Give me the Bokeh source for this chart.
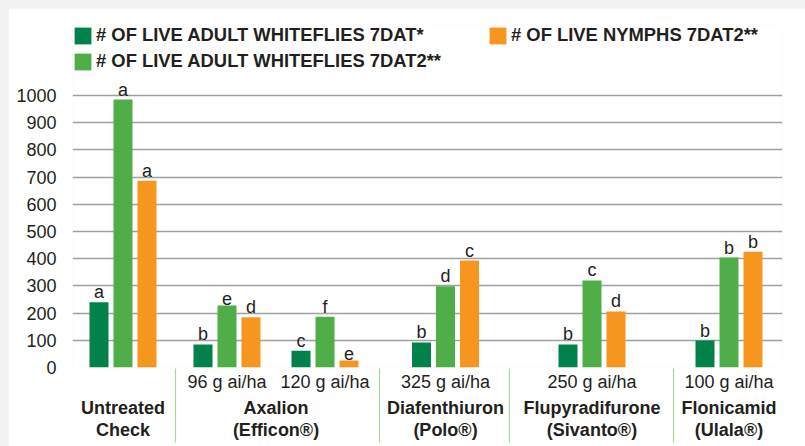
from bokeh.plotting import figure
from bokeh.models import (ColumnDataSource, Range1d, LinearAxis, FixedTicker,
                          Legend, LegendItem)
from bokeh.transform import dodge
from bokeh.embed import file_html
from bokeh.resources import INLINE
from bokeh.core.properties import value

# ---------------- data ----------------
treatments = ["Untreated Check", "Axalion 96 g ai/ha", "Axalion 120 g ai/ha",
              "Diafenthiuron 325 g ai/ha", "Flupyradifurone 250 g ai/ha",
              "Flonicamid 100 g ai/ha"]
adult_7dat = [240, 85, 62, 92, 85, 99]
adult_7dat2 = [985, 228, 187, 299, 320, 404]
nymphs_7dat2 = [687, 185, 26, 393, 206, 426]
letters_adult_7dat = ["a", "b", "c", "b", "b", "b"]
letters_adult_7dat2 = ["a", "e", "f", "d", "c", "b"]
letters_nymphs_7dat2 = ["a", "d", "e", "c", "d", "b"]
series_names = ["# OF LIVE ADULT WHITEFLIES 7DAT*",
                "# OF LIVE ADULT WHITEFLIES 7DAT2**",
                "# OF LIVE NYMPHS 7DAT2**"]
dose_labels = ["96 g ai/ha", "120 g ai/ha", "325 g ai/ha", "250 g ai/ha", "100 g ai/ha"]
product_labels = ["Untreated\nCheck", "Axalion\n(Efficon®)", "Diafenthiuron\n(Polo®)",
                  "Flupyradifurone\n(Sivanto®)", "Flonicamid\n(Ulala®)"]
y_ticks = [0, 100, 200, 300, 400, 500, 600, 700, 800, 900, 1000]

# ---------------- layout (positions along the category axis) ----------------
group_x = [50.5, 154.5, 252.5, 373, 519.5, 656.5]
dose_x = [154.5, 252.5, 373, 519.5, 656.5]
product_x = [50.5, 203.5, 373, 519.5, 656.5]
separator_x = [103, 307, 437, 601]

DARK = "#00824a"
LIGHT = "#4fae47"
ORANGE = "#f7961e"
TXT = "#231f20"
FONT = "Liberation Sans"

p = figure(width=797, height=438, x_range=Range1d(0, 710), y_range=Range1d(0, 1261),
           output_backend="svg", toolbar_location=None, x_axis_type=None,
           min_border_left=64, min_border_right=23, min_border_top=16,
           min_border_bottom=79)
p.outline_line_color = None
p.background_fill_color = "white"
p.border_fill_color = "white"

# y axis
yax = p.yaxis[0]
yax.ticker = FixedTicker(ticks=y_ticks)
yax.axis_line_color = None
yax.major_tick_line_color = None
yax.minor_tick_line_color = None
yax.major_label_standoff = 10
yax.major_label_text_font = FONT
yax.major_label_text_font_size = "18px"
yax.major_label_text_color = TXT
p.ygrid.ticker = FixedTicker(ticks=y_ticks)
p.ygrid.grid_line_color = "#a0a0a0"
p.ygrid.grid_line_width = 1.6


def label_axis(ticks, labels, standoff, style):
    ax = LinearAxis(ticker=FixedTicker(ticks=ticks, minor_ticks=[]),
                    major_label_overrides={k: v for k, v in zip(ticks, labels)})
    ax.axis_line_color = None
    ax.major_tick_line_color = None
    ax.major_tick_out = 0
    ax.major_tick_in = 0
    ax.minor_tick_line_color = None
    ax.minor_tick_out = 0
    ax.minor_tick_in = 0
    ax.major_label_standoff = standoff
    ax.major_label_text_font = FONT
    ax.major_label_text_font_size = "18px"
    ax.major_label_text_font_style = style
    ax.major_label_text_color = TXT
    return ax


ax1 = label_axis(dose_x, dose_labels, 4, "normal")
ax2 = label_axis(product_x, product_labels, 3, "bold")
ax2.major_label_text_line_height = 1.1
# separator axis: ticks pointing up through the label rows
ax3 = LinearAxis(ticker=FixedTicker(ticks=separator_x, minor_ticks=[]),
                 major_label_overrides={k: "" for k in separator_x})
ax3.axis_line_color = None
ax3.major_tick_line_color = "#a9d79b"
ax3.major_tick_line_width = 1.2
ax3.major_tick_out = 0
ax3.major_tick_in = 74
ax3.minor_tick_line_color = None
ax3.minor_tick_out = 0
ax3.minor_tick_in = 0
ax3.major_label_standoff = 0
ax3.major_label_text_font_size = "1px"
p.add_layout(ax1, "below")
p.add_layout(ax2, "below")
p.add_layout(ax3, "below")

src = ColumnDataSource(dict(x=group_x, a=adult_7dat, b=adult_7dat2, c=nymphs_7dat2,
                            la=letters_adult_7dat, lb=letters_adult_7dat2,
                            lc=letters_nymphs_7dat2, name=treatments))

renderers = []
for off, col, lab, colr in [(-24, "a", "la", DARK), (0, "b", "lb", LIGHT), (24, "c", "lc", ORANGE)]:
    r = p.vbar(x=dodge("x", off), top=col, width=19, source=src,
               fill_color=colr, line_color=None)
    renderers.append(r)
    p.text(x=dodge("x", off), y=col, text=lab, source=src, text_align="center",
           text_baseline="bottom", y_offset=0, text_font=value(FONT),
           text_font_size=value("18px"), text_color=TXT)

leg = Legend(items=[LegendItem(label=series_names[0], renderers=[renderers[0]]),
                    LegendItem(label=series_names[1], renderers=[renderers[1]]),
                    LegendItem(label=series_names[2], renderers=[renderers[2]])],
             orientation="vertical", nrows=2, location="top_left",
             glyph_width=21, glyph_height=21, label_standoff=3, padding=0, margin=0,
             spacing=4, border_line_color=None, background_fill_alpha=0,
             label_text_font=FONT, label_text_font_size="18.4px",
             label_text_font_style="bold", label_text_color=TXT,
             label_height=21, label_width=387)
p.add_layout(leg)

html = file_html(p, INLINE)
html = html.replace("</head>",
                    "<style>body{padding:8px 0 0 8px !important;"
                    "background:#f2f2f2 !important;}</style></head>", 1)
open("out.html", "w").write(html)
